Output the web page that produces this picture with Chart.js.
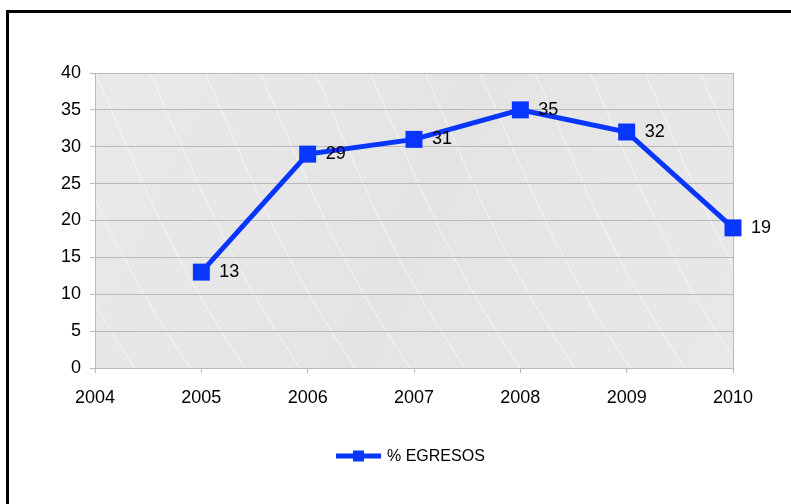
<!DOCTYPE html>
<html lang="es">
<head>
  <meta charset="UTF-8" />
  <title>% Egresos</title>
  <script src="https://cdn.jsdelivr.net/npm/chart.js"></script>
  <style>
    html, body {
      margin: 0;
      padding: 0;
      background: #ffffff;
    }
    .frame {
      position: absolute;
      left: 6px;
      top: 10px;
      width: 800px;
      height: 520px;
      border-left: 3px solid #000;
      border-top: 3px solid #000;
      pointer-events: none;
    }
    canvas {
      position: absolute;
      left: 0;
      top: 0;
    }
  </style>
</head>
<body>
<canvas id="egresosChart" width="791" height="504"></canvas>
<div class="frame"></div>

<script>
  // Datos
  const years = [2005, 2006, 2007, 2008, 2009, 2010];
  const egresos = [13, 29, 31, 35, 32, 19];
  const seriesLabel = '% EGRESOS';
  const yTicks = [0, 5, 10, 15, 20, 25, 30, 35, 40];
  const xRange = [2004, 2010];

  const BLUE = '#0836ff';
  const FONT = "'Liberation Sans', Arial, sans-serif";

  // fondo gris del área de trazado (con algunas vetas claras)
  const plotBackground = {
    id: 'plotBackground',
    beforeDraw(chart) {
      const { ctx, chartArea: a } = chart;
      const w = a.right - a.left, h = a.bottom - a.top;
      ctx.save();
      const g = ctx.createLinearGradient(a.left, a.top, a.right, a.bottom);
      g.addColorStop(0, '#e9e9e9');
      g.addColorStop(0.5, '#e4e4e4');
      g.addColorStop(1, '#e8e8e8');
      ctx.fillStyle = g;
      ctx.fillRect(a.left, a.top, w, h);
      ctx.beginPath();
      ctx.rect(a.left, a.top, w, h);
      ctx.clip();
      ctx.strokeStyle = 'rgba(255,255,255,0.45)';
      ctx.lineWidth = 1.2;
      for (let k = -6; k < 14; k++) {
        const sx = a.left + k * 55;
        ctx.beginPath();
        ctx.moveTo(sx, a.top);
        ctx.bezierCurveTo(sx + 40, a.top + h * 0.3, sx + 70, a.top + h * 0.6, sx + 150, a.bottom);
        ctx.stroke();
      }
      ctx.restore();
      ctx.save();
      ctx.strokeStyle = '#b9b9b9';
      ctx.lineWidth = 1;
      ctx.strokeRect(a.left + 0.5, a.top + 0.5, w, h);
      ctx.restore();
    }
  };

  // etiquetas de valor junto a cada punto
  const valueLabels = {
    id: 'valueLabels',
    afterDatasetsDraw(chart) {
      const { ctx } = chart;
      const meta = chart.getDatasetMeta(0);
      ctx.save();
      ctx.font = '18px ' + FONT;
      ctx.fillStyle = '#000';
      ctx.textAlign = 'left';
      ctx.textBaseline = 'middle';
      meta.data.forEach((pt, i) => {
        ctx.fillText(String(egresos[i]), pt.x + 18, pt.y);
      });
      ctx.restore();
    }
  };

  // leyenda: línea con marcador cuadrado
  const lineLegend = {
    id: 'lineLegend',
    afterDraw(chart) {
      const { ctx } = chart;
      const ds = chart.data.datasets[0];
      const x0 = 336, x1 = 381, y = 456;
      ctx.save();
      ctx.strokeStyle = ds.borderColor;
      ctx.lineWidth = 5;
      ctx.beginPath();
      ctx.moveTo(x0, y);
      ctx.lineTo(x1, y);
      ctx.stroke();
      ctx.fillStyle = ds.pointBackgroundColor;
      ctx.fillRect((x0 + x1) / 2 - 5.5, y - 5.5, 11, 11);
      ctx.font = '16px ' + FONT;
      ctx.fillStyle = '#000';
      ctx.textBaseline = 'middle';
      ctx.fillText(ds.label, x1 + 6, y + 1);
      ctx.restore();
    }
  };

  new Chart(document.getElementById('egresosChart'), {
    type: 'line',
    data: {
      datasets: [{
        label: seriesLabel,
        data: years.map((yr, i) => ({ x: yr, y: egresos[i] })),
        borderColor: BLUE,
        backgroundColor: BLUE,
        pointBackgroundColor: BLUE,
        pointBorderColor: BLUE,
        borderWidth: 5,
        pointStyle: 'rect',
        pointRadius: 12,
        pointBorderWidth: 0,
        tension: 0,
        clip: false
      }]
    },
    options: {
      responsive: false,
      animation: false,
      events: [],
      layout: { padding: { left: 0, top: 73, right: 58, bottom: 0 } },
      plugins: {
        legend: { display: false },
        tooltip: { enabled: false }
      },
      scales: {
        x: {
          type: 'linear',
          min: xRange[0],
          max: xRange[1],
          afterFit(scale) { scale.height = 136; },
          grid: {
            drawOnChartArea: false,
            drawTicks: true,
            tickLength: 5,
            color: '#b9b9b9'
          },
          border: { color: '#b9b9b9' },
          ticks: {
            stepSize: 1,
            padding: 14,
            color: '#000',
            font: { family: FONT, size: 18 },
            callback: v => String(v)
          }
        },
        y: {
          min: 0,
          max: 40,
          afterFit(scale) { scale.width = 95; },
          afterBuildTicks(scale) { scale.ticks = yTicks.map(v => ({ value: v })); },
          grid: {
            color: '#b9b9b9',
            tickLength: 5
          },
          border: { color: '#b9b9b9' },
          ticks: {
            padding: 9,
            color: '#000',
            font: { family: FONT, size: 18 }
          }
        }
      }
    },
    plugins: [plotBackground, valueLabels, lineLegend]
  });
</script>
</body>
</html>
